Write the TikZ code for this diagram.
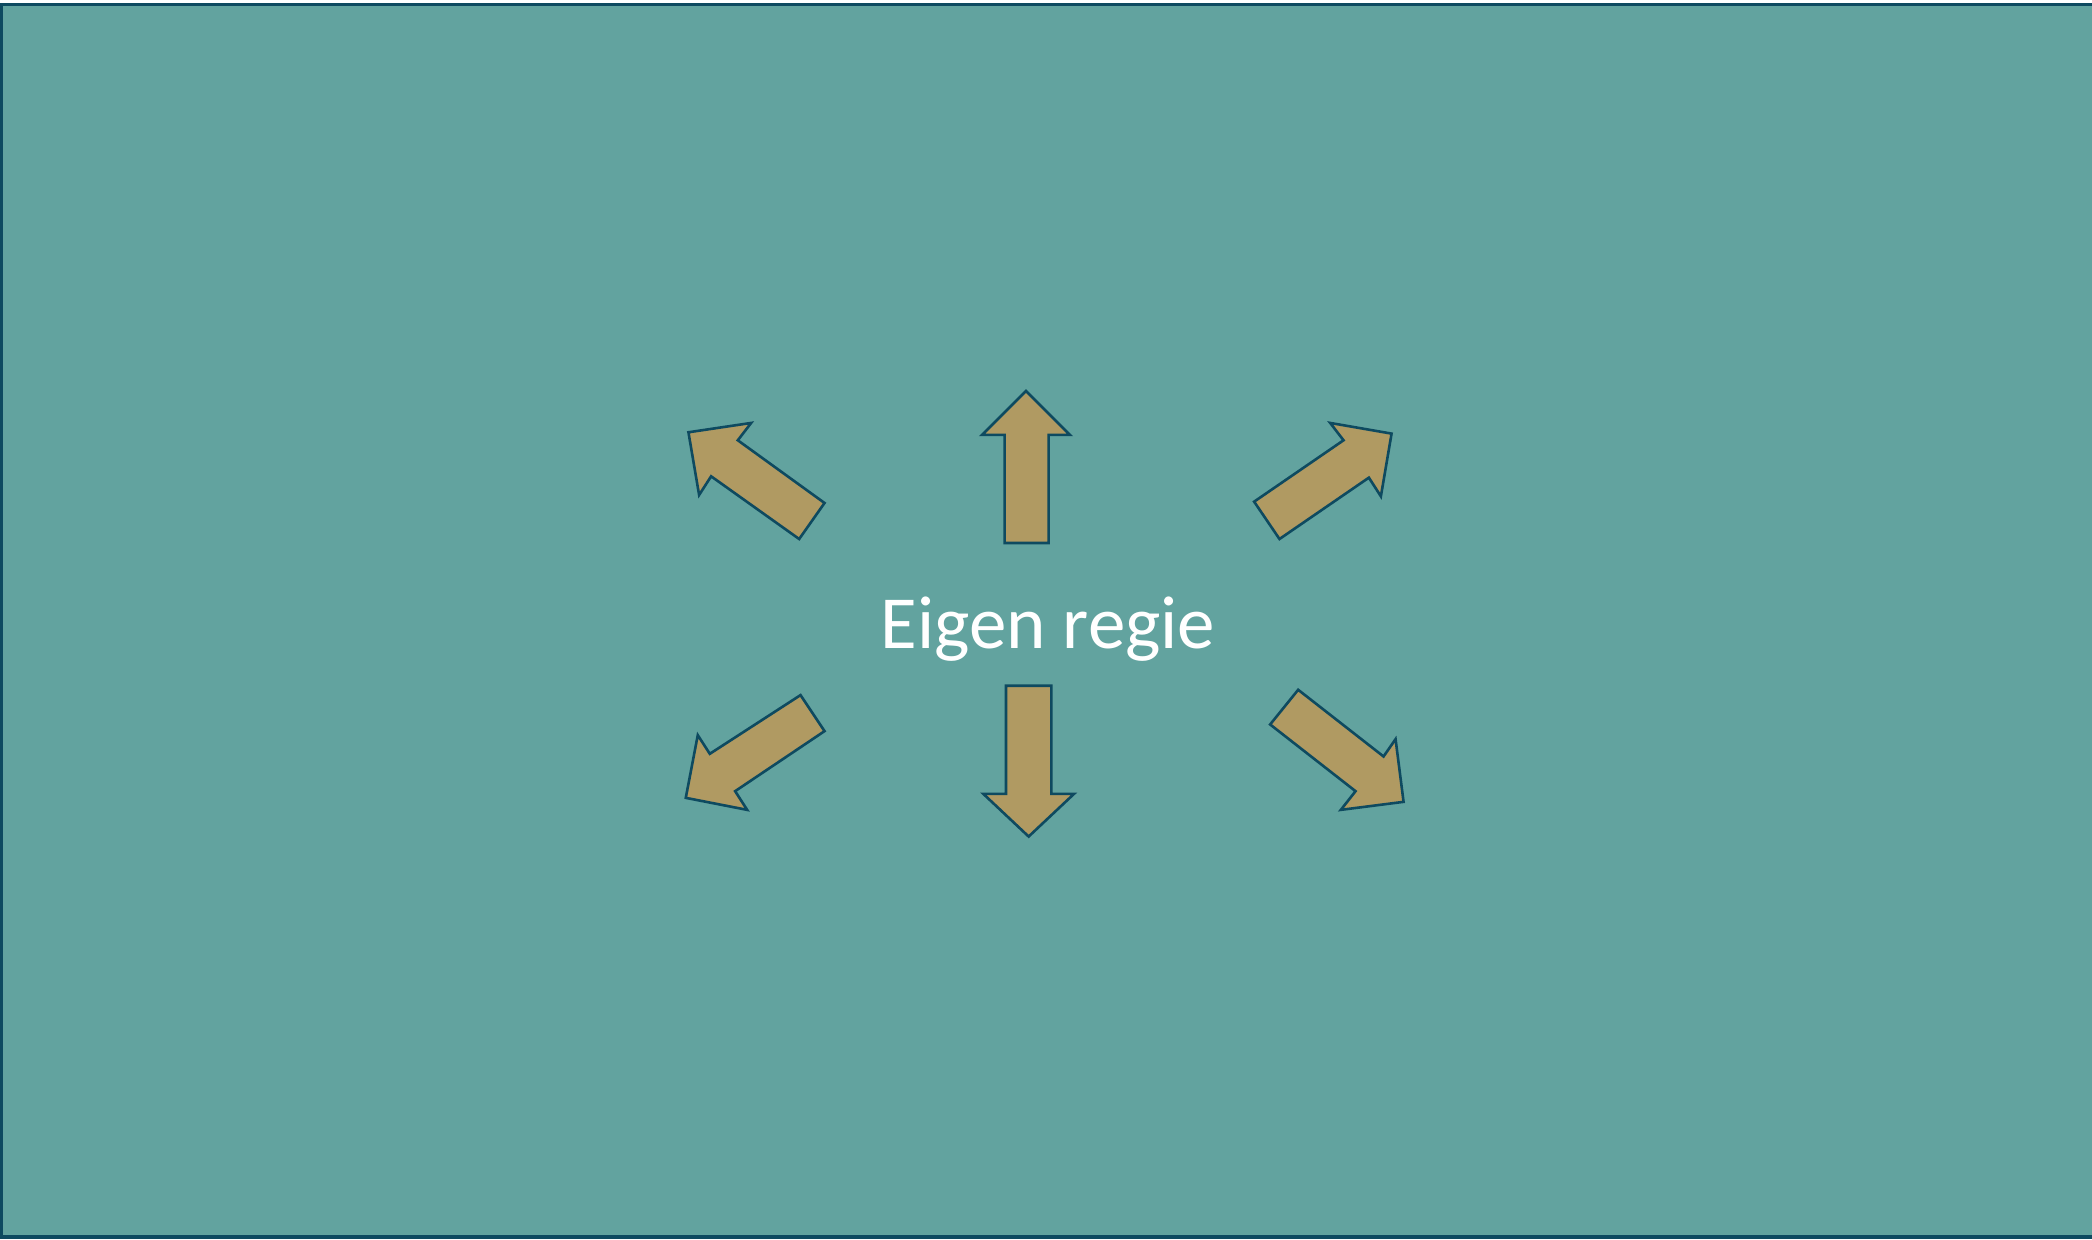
\documentclass[tikz,border=0pt]{standalone}
\usepackage{fontspec}
\setmainfont{Carlito}
\definecolor{bgteal}{RGB}{98,163,159}
\definecolor{arrowfill}{RGB}{176,154,98}
\definecolor{darkline}{RGB}{14,74,96}
\tikzset{
  bigarrow/.style={fill=arrowfill, draw=darkline, line width=2.6pt, line join=miter},
}
\begin{document}
\begin{tikzpicture}[x=1.3342pt,y=-1.3342pt]
\useasboundingbox (0,0) rectangle (1568,929);
\fill[white] (0,0) rectangle (1568,929);
\fill[darkline] (0,925) rectangle (1568,929);
\draw[fill=bgteal, draw=darkline, line width=3pt] (1,3) rectangle (1572,927);
% up
\draw[bigarrow] (769,293) -- (802,326) -- (786,326) -- (786,407) -- (753,407) -- (753,326) -- (736,326) -- cycle;
% down
\draw[bigarrow] (771,627) -- (805,595) -- (788,595) -- (788,514) -- (754,514) -- (754,595) -- (737,595) -- cycle;
% upper left
\draw[bigarrow] (516,324) -- (563,317) -- (553,330) -- (618,377) -- (599,404) -- (533,357) -- (524,371) -- cycle;
% upper right
\draw[bigarrow] (1043,325) -- (1035,372) -- (1026,358) -- (959,404) -- (940,376) -- (1007,330) -- (997,317) -- cycle;
% lower left
\draw[bigarrow] (514,598) -- (523,551) -- (532,565) -- (600,521) -- (618,548) -- (551,593) -- (560,607) -- cycle;
% lower right
\draw[bigarrow] (1052,601) -- (1005,607) -- (1016,593) -- (952,543) -- (973,517) -- (1037,567) -- (1046,554) -- cycle;
\node[text=white, font=\fontsize{75}{80}\selectfont, anchor=base, inner sep=0pt] (title) at (785.5,486) {Eigen regie};
\end{tikzpicture}
\end{document}
